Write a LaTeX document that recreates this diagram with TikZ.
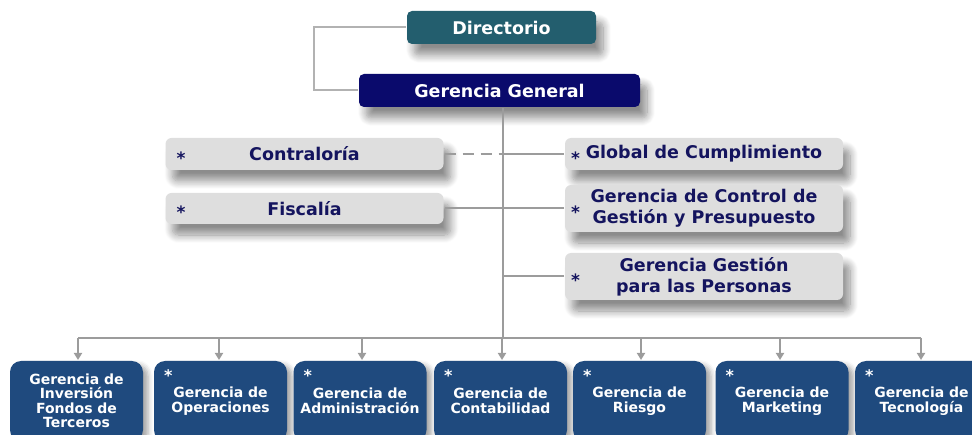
\documentclass[tikz,border=0pt]{standalone}
\usepackage{fontspec}
\setmainfont{DejaVu Sans}
\usetikzlibrary{arrows.meta,shadows.blur,calc}

\definecolor{dirteal}{HTML}{235E6E}
\definecolor{gennavy}{HTML}{0A0A6C}
\definecolor{gerblue}{HTML}{1F4A7E}
\definecolor{staffgray}{HTML}{DEDEDE}
\definecolor{staffnavy}{HTML}{14145E}
\definecolor{linegray}{HTML}{9C9C9C}

\begin{document}
\begin{tikzpicture}[x=1pt,y=-1pt,>={Triangle[width=8pt,length=7pt]},line width=2pt,
  softshadow/.style={blur shadow={shadow xshift=7pt,shadow yshift=-11pt,shadow blur radius=8pt,
                     shadow blur steps=10,shadow opacity=45}},
  topbox/.style={rectangle,rounded corners=5pt,softshadow,text=white,inner sep=0pt,
                 font=\bfseries\fontsize{17.5}{20}\selectfont},
  staffbox/.style={rectangle,rounded corners=6pt,fill=staffgray,softshadow,text=staffnavy,inner sep=0pt,
                   align=center,minimum width=278pt,font=\bfseries\fontsize{17.5}{21}\selectfont},
  gerbox/.style={rectangle,rounded corners=11pt,fill=gerblue,text=white,inner sep=0pt,align=center,
                 minimum width=133pt,minimum height=80pt,
                 blur shadow={shadow xshift=5pt,shadow yshift=-4pt,shadow blur radius=5pt,shadow opacity=35},
                 font=\bfseries\fontsize{14}{14.5}\selectfont},
  star/.style={anchor=west,inner sep=0pt},
  link/.style={draw=linegray,line width=2pt}]
\useasboundingbox (0,0) rectangle (972,435);
\clip (0,0) rectangle (972,435);
\def\spine{503}
\def\bus{338}

% cabeza
\node[topbox,fill=dirteal,minimum width=189pt,minimum height=33pt] (dir) at (501.5,27.5) {Directorio};
\node[topbox,fill=gennavy,minimum width=281pt,minimum height=33pt] (gg) at (499.5,90.5) {Gerencia General};

% staff
\node[staffbox,minimum height=32pt] (contra) at (304.5,154) {Contraloría};
\node[staffbox,minimum height=31pt] (fisca) at (304.5,208.5) {Fiscalía};
\node[staffbox,minimum height=32pt] (glob) at (704,154) {Global de Cumplimiento};
\node[staffbox,minimum height=47pt] (ctrl) at (704,208.5) {Gerencia de Control de\\Gestión y Presupuesto};
\node[staffbox,minimum height=47pt] (pers) at (704,276.5) {Gerencia Gestión\\para las Personas};

\foreach \n/\dx in {contra/11,fisca/11,glob/6,ctrl/6,pers/6}
  \node[star,text=staffnavy,font=\bfseries\fontsize{17}{18}\selectfont] (\n-star) at ($(\n.west)+(\dx,4)$) {*};

% gerencias
\node[gerbox] (inv) at (76.5,401) {Gerencia de\\Inversión\\Fondos de\\Terceros};
\node[gerbox] (oper) at (220.5,401) {Gerencia de\\Operaciones};
\node[gerbox] (admin) at (360,401) {Gerencia de\\Administración};
\node[gerbox] (cont) at (500.5,401) {Gerencia de\\Contabilidad};
\node[gerbox] (ries) at (639.5,401) {Gerencia de\\Riesgo};
\node[gerbox] (mkt) at (782,401) {Gerencia de\\Marketing};
\node[gerbox] (tec) at (921.5,401) {Gerencia de\\Tecnología};

\foreach \n in {oper,admin,cont,ries,mkt,tec}
  \node[star,text=white,font=\bfseries\fontsize{16}{18}\selectfont] (\n-star) at ($(\n.north west)+(10,16)$) {*};

% lineas
\coordinate (sp) at (\spine,\bus);
\coordinate (busL) at (78,\bus);
\coordinate (busR) at (921,\bus);
\draw[link,draw=black!30] (dir.west) -| ($(gg.west)+(-44,0)$) -- (gg.west);
\draw[link] (sp |- gg.south) -- (sp);
\draw[link] (busL) -- (busR);
\draw[link,dash pattern=on 11pt off 7pt] (contra.east) -- (contra.east -| sp);
\draw[link] (contra.east -| sp) -- (glob.west);
\draw[link] (fisca.east) -- (fisca.east -| sp);
\draw[link] (ctrl.west) -- (ctrl.west -| sp);
\draw[link] (pers.west) -- (pers.west -| sp);
\foreach \n/\x in {inv/78,oper/219,admin/362,cont/502,ries/641,mkt/780,tec/921}{
  \coordinate (\n-in) at (\x,\bus);
  \draw[link,->] (\n-in) -- (\n-in |- \n.north);
}
\end{tikzpicture}
\end{document}
